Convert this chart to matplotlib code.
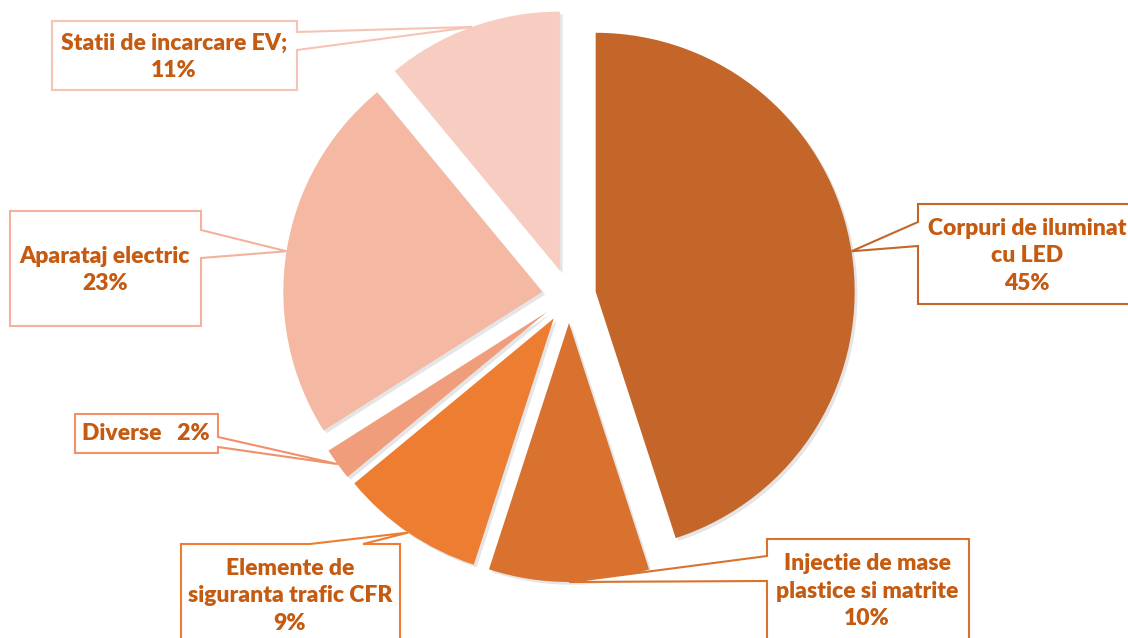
import matplotlib
matplotlib.use('Agg')
import matplotlib.pyplot as plt
import matplotlib.patheffects as pe
from matplotlib.patches import Polygon
import numpy as np

# ----------------------------- Data ----------------------------- #
names = ['Corpuri de iluminat\ncu LED', 'Injectie de mase\nplastice si matrite',
         'Elemente de\nsiguranta trafic CFR', 'Diverse', 'Aparataj electric',
         'Statii de incarcare EV;']
shares = [45, 10, 9, 2, 23, 11]
seps = ['\n', '\n', '\n', '   ', '\n', '\n']

slice_colors = ['#C4662A', '#D9722F', '#ED7D31', '#F09D7C', '#F4B8A3', '#F7CDC1']
box_colors = ['#C4662A', '#D9722F', '#ED7D31', '#F0916B', '#F4B29C', '#F6C4B6']
txt_color = '#C55A11'

# ------------------------ Layout (pixels) ------------------------ #
W, H = 1128, 638
cx, cy, R, gap = 569, H - 296, 259, 27

# box: (left, top, right, bottom) in image px, side, attach points, text centre
boxes = [
    ((918, 204, 1140, 304), 'left', (222, 246), (1027, 256)),
    ((767, 539, 969, 660), 'left', (556, 581), (867, 591)),
    ((181, 544, 400, 660), 'top', (310, 363), (290, 596)),
    ((75, 414, 218, 453), 'right', (437, 447), (146, 434)),
    ((10, 211, 201, 326), 'right', (230, 258), (105, 270)),
    ((52, 21, 297, 90), 'right', (32, 50), (174, 57)),
]

plt.rcParams['font.family'] = ['Lato', 'DejaVu Sans']

fig = plt.figure(figsize=(W / 100, H / 100), dpi=100)
ax = fig.add_axes([0, 0, 1, 1])

wedges, _ = ax.pie(shares, colors=slice_colors, startangle=90, counterclock=False,
                   radius=R, center=(cx, cy), explode=[gap] * len(shares),
                   wedgeprops=dict(linewidth=0))
for w in wedges:
    w.set_path_effects([pe.SimplePatchShadow(offset=(2, -2), shadow_rgbFace='#999999', alpha=0.25),
                        pe.Normal()])


def callout(box, side, att, tip, ec):
    l, t, r, b = box
    tl, tr, br, bl = (l, H - t), (r, H - t), (r, H - b), (l, H - b)
    if side == 'right':
        pts = [bl, br, (r, H - att[1]), tip, (r, H - att[0]), tr, tl]
    elif side == 'left':
        pts = [bl, br, tr, tl, (l, H - att[0]), tip, (l, H - att[1])]
    else:  # top
        pts = [bl, br, tr, (att[1], H - t), tip, (att[0], H - t), tl]
    ax.add_patch(Polygon(pts, closed=True, facecolor='white', edgecolor=ec,
                         linewidth=1.5, zorder=5))


for w, name, val, sep, (box, side, att, tc), ec in zip(wedges, names, shares, seps, boxes, box_colors):
    mid = np.deg2rad((w.theta1 + w.theta2) / 2)
    wx, wy = w.center
    tip = (wx + R * np.cos(mid), wy + R * np.sin(mid))
    callout(box, side, att, tip, ec)
    ax.text(tc[0], H - tc[1], f'{name}{sep}{val}%', ha='center', va='center',
            fontsize=16.5, fontweight='heavy', color=txt_color, linespacing=1.4, zorder=6)

ax.set_xlim(0, W)
ax.set_ylim(0, H)
ax.set_aspect('equal')
ax.axis('off')

plt.savefig('out.png', dpi=100, facecolor='white')
